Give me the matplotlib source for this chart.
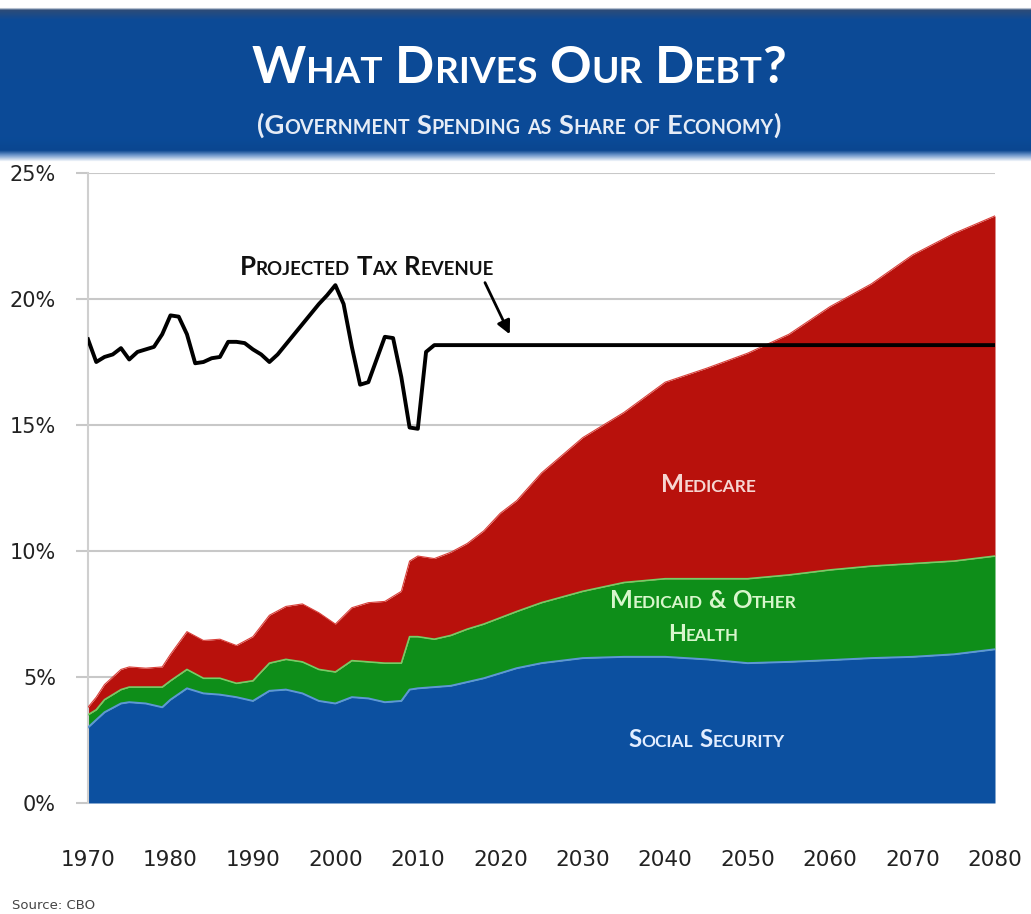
import matplotlib
matplotlib.use('Agg')
import numpy as np
import matplotlib.pyplot as plt
from matplotlib.transforms import IdentityTransform

# spending as share of GDP (%), by program
years = [1970, 1971, 1972, 1974, 1975, 1977, 1979, 1980, 1982, 1984, 1986, 1988,
         1990, 1992, 1994, 1996, 1998, 2000, 2002, 2004, 2006, 2008, 2009, 2010,
         2012, 2014, 2016, 2018, 2020, 2022, 2025, 2030, 2035, 2040, 2045, 2050,
         2055, 2060, 2065, 2070, 2075, 2080]
social_security = [3.0, 3.3, 3.6, 3.95, 4.0, 3.95, 3.8, 4.1, 4.55, 4.35, 4.3, 4.2,
                   4.05, 4.45, 4.5, 4.35, 4.05, 3.95, 4.2, 4.15, 4.0, 4.05, 4.5, 4.55,
                   4.6, 4.65, 4.8, 4.95, 5.15, 5.35, 5.55, 5.75, 5.8, 5.8, 5.7, 5.55,
                   5.6, 5.67, 5.75, 5.8, 5.9, 6.1]
medicaid_other = [0.5, 0.4, 0.5, 0.55, 0.6, 0.65, 0.8, 0.75, 0.75, 0.6, 0.65, 0.55,
                  0.8, 1.1, 1.2, 1.25, 1.25, 1.25, 1.45, 1.45, 1.55, 1.5, 2.1, 2.05,
                  1.9, 2.0, 2.1, 2.15, 2.2, 2.25, 2.4, 2.65, 2.95, 3.1, 3.2, 3.35,
                  3.45, 3.58, 3.65, 3.7, 3.7, 3.7]
medicare = [0.3, 0.5, 0.6, 0.8, 0.8, 0.75, 0.8, 1.05, 1.5, 1.5, 1.55, 1.5,
            1.75, 1.9, 2.1, 2.3, 2.25, 1.9, 2.1, 2.35, 2.45, 2.85, 3.0, 3.2,
            3.2, 3.3, 3.4, 3.7, 4.15, 4.4, 5.15, 6.1, 6.75, 7.8, 8.35, 8.95,
            9.55, 10.45, 11.2, 12.25, 13.0, 13.5]

# federal revenue (%), flat projection after 2012
tax_years = [1970, 1971, 1972, 1973, 1974, 1975, 1976, 1977, 1978, 1979, 1980, 1981,
             1982, 1983, 1984, 1985, 1986, 1987, 1988, 1989, 1990, 1991, 1992, 1993,
             1994, 1995, 1996, 1997, 1998, 1999, 2000, 2001, 2002, 2003, 2004, 2005,
             2006, 2007, 2008, 2009, 2010, 2011, 2012, 2080]
tax_revenue = [18.4, 17.5, 17.7, 17.8, 18.05, 17.6, 17.9, 18.0, 18.1, 18.6, 19.35, 19.3,
               18.6, 17.45, 17.5, 17.65, 17.7, 18.3, 18.3, 18.25, 18.0, 17.8, 17.5, 17.8,
               18.2, 18.6, 19.0, 19.4, 19.8, 20.15, 20.55, 19.8, 18.1, 16.6, 16.7, 17.6,
               18.5, 18.45, 16.9, 14.9, 14.85, 17.9, 18.17, 18.17]

x_ticks = list(range(1970, 2081, 10))
y_ticks = [0, 5, 10, 15, 20, 25]
y_tick_labels = ['0%', '5%', '10%', '15%', '20%', '25%']

BLUE = '#0c50a0'
GREEN = '#0e8e19'
RED = '#b8110c'

W, H = 1031, 914
fig = plt.figure(figsize=(W / 100, H / 100), dpi=100)
fig.patch.set_facecolor('white')
renderer = fig.canvas.get_renderer()


def small_caps(x, y, s, size, color, width=None, ratio=0.72, family='Lato'):
    """Draw s centred at pixel (x, y) on the baseline; lowercase letters become small capitals."""
    runs = []
    words = s.split(' ')
    for i, word in enumerate(words):
        j = 0
        while j < len(word):
            big = not word[j].islower()
            k = j
            while k < len(word) and (not word[k].islower()) == big:
                k += 1
            runs.append((word[j:k].upper(), big))
            j = k
        if i < len(words) - 1:
            runs.append((' ', True))

    def measure(txt, fs):
        t = fig.text(0, 0, txt, fontsize=fs, family=family, weight='bold')
        w = t.get_window_extent(renderer).width
        t.remove()
        return w

    def widths(fs):
        sp = measure('I I', fs) - measure('II', fs)
        return [sp if txt == ' ' else measure(txt, fs if big else fs * ratio)
                for txt, big in runs]

    ws = widths(size)
    if width is not None:
        size = size * width / sum(ws)
        ws = widths(size)
    cur = x - sum(ws) / 2
    for (txt, big), w in zip(runs, ws):
        if txt != ' ':
            fig.text(cur, y, txt, transform=IdentityTransform(), fontsize=size if big else size * ratio,
                     family=family, weight='bold', color=color, va='baseline', ha='left', zorder=6)
        cur += w


# header banner
stops = [(0.0, '#ffffff'), (0.045, '#ffffff'), (0.06, '#2d4c78'), (0.12, '#0d4a96'),
         (0.85, '#0b4b98'), (0.93, '#0a4690'), (0.96, '#6f98cc'), (1.0, '#ffffff')]
pos = np.linspace(0, 1, 200)
grad = np.zeros((200, 1, 3))
sp = [p for p, _ in stops]
cols = np.array([matplotlib.colors.to_rgb(c) for _, c in stops])
for ch in range(3):
    grad[:, 0, ch] = np.interp(pos, sp, cols[:, ch])
bax = fig.add_axes([0, 1 - 162 / H, 1, 162 / H])
bax.imshow(grad, aspect='auto', extent=(0, 1, 1, 0))
bax.axis('off')

small_caps(519, H - 83, 'What Drives Our Debt?', 40, 'white', width=535)
small_caps(519, H - 134, '(Government Spending as Share of Economy)', 20, '#e6ecf6', width=522)

# chart
ax = fig.add_axes([88 / W, 1 - 803 / H, (995 - 88) / W, (803 - 173) / H])
ax.set_xlim(1970, 2080)
ax.set_ylim(0, 25)

ss = np.array(social_security)
mo = ss + np.array(medicaid_other)
mc = mo + np.array(medicare)
ax.fill_between(years, 0, ss, color=BLUE, lw=0, zorder=2)
ax.fill_between(years, ss, mo, color=GREEN, lw=0, zorder=2)
ax.fill_between(years, mo, mc, color=RED, lw=0, zorder=2)
ax.plot(years, ss, color='#5d97d6', lw=1.4, zorder=3)
ax.plot(years, mo, color='#74cf66', lw=1.2, zorder=3)
ax.plot(years, mc, color='#d9403a', lw=0.8, zorder=3)
ax.plot(tax_years, tax_revenue, color='black', lw=2.8, zorder=4, solid_joinstyle='round')

ax.annotate('', xy=(2021.3, 18.5), xytext=(2018.0, 20.75),
            arrowprops=dict(arrowstyle='-|>', color='black', lw=2.0, mutation_scale=20), zorder=5)

ax.set_xticks(x_ticks)
ax.set_yticks(y_ticks)
ax.set_yticklabels(y_tick_labels)
ax.tick_params(axis='x', length=0, pad=34, labelsize=15.5, labelcolor='#222222')
ax.tick_params(axis='y', length=9, width=1.5, color='#c8c8c8', pad=14, labelsize=15,
               labelcolor='#222222')
ax.yaxis.grid(True, color='#c8c8c8', lw=1.5, zorder=0)
ax.set_axisbelow(True)
for s in ['top', 'right', 'bottom']:
    ax.spines[s].set_visible(False)
ax.spines['left'].set_color('#cfcfcf')
ax.spines['left'].set_linewidth(1.5)


def px(xd, yd):
    return ax.transData.transform((xd, yd))


small_caps(*px(2003.8, 20.95), 'Projected Tax Revenue', 14, '#111111', width=253)
small_caps(*px(2045.3, 12.34), 'Medicare', 14, '#f6d6d2', width=96)
small_caps(*px(2044.6, 7.74), 'Medicaid & Other', 14, '#d8f6cc', width=187)
small_caps(*px(2044.6, 6.43), 'Health', 14, '#d8f6cc', width=71)
small_caps(*px(2045.0, 2.22), 'Social Security', 14, '#e2edff', width=156)

fig.text(12 / W, 1 - 909 / H, 'Source: CBO', fontsize=9.5, color='#444444')

fig.savefig('out.png', dpi=100)
